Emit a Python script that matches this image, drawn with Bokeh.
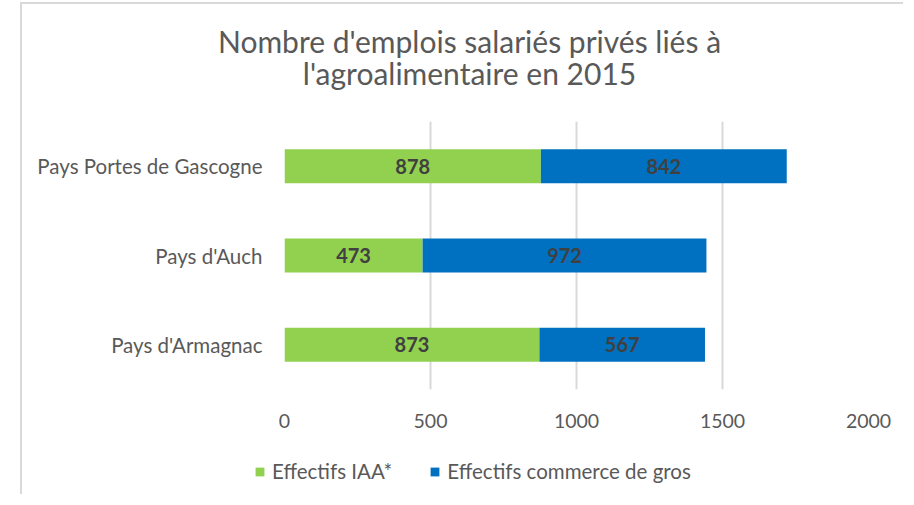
from bokeh.plotting import figure
from bokeh.models import Range1d, FactorRange, Legend, LegendItem, Label, ColumnDataSource, FixedTicker
from bokeh.core.properties import value
from bokeh.embed import file_html
from bokeh.resources import INLINE

categories = ["Pays d'Armagnac", "Pays d'Auch", "Pays Portes de Gascogne"]
iaa = [873, 473, 878]
gros = [567, 972, 842]
series_names = ["Effectifs IAA*", "Effectifs commerce de gros"]
x_ticks = [0, 500, 1000, 1500, 2000]
title_line1 = "Nombre d'emplois salariés privés liés à"
title_line2 = "l'agroalimentaire en 2015"

FONT = "Lato"
GREEN = "#92D050"
BLUE = "#0070C0"
GRAY = "#595959"
COLORS = [GREEN, BLUE]
BORDER = "2px solid #d9d9d9"

src = ColumnDataSource(dict(
    cat=categories, iaa=iaa, gros=gros,
    iaa_mid=[v / 2 for v in iaa],
    gros_mid=[a + b / 2 for a, b in zip(iaa, gros)],
    iaa_lbl=[str(v) for v in iaa],
    gros_lbl=[str(v) for v in gros],
))

W = 883

# ---- title strip (separate root, frame spans the whole canvas) ----
tf = figure(width=W, height=100, x_range=Range1d(0, 1), y_range=Range1d(0, 1),
            output_backend="svg", toolbar_location=None,
            x_axis_location=None, y_axis_location=None,
            min_border_left=0, min_border_right=0, min_border_top=0, min_border_bottom=0,
            styles={"margin-left": "20px", "margin-top": "2px",
                    "border-left": BORDER, "border-top": BORDER})
tf.outline_line_color = None
tf.grid.grid_line_color = None
tf.border_fill_color = "white"
tf.background_fill_color = "white"
tf.title.text_font_size = "1px"
tf.title.standoff = 0
for txt, yy in [(title_line1, 64), (title_line2, 32)]:
    tf.add_layout(Label(x=447, y=yy, x_units="screen", y_units="screen", text=txt,
                        text_align="center", text_baseline="alphabetic", text_font=FONT,
                        text_font_size="30px", text_color=GRAY))

# ---- main chart ----
p = figure(width=W, height=342, y_range=FactorRange(*categories), x_range=Range1d(0, 2000),
           output_backend="svg", toolbar_location=None,
           min_border_left=262, min_border_right=37, min_border_top=19, min_border_bottom=55,
           styles={"margin-left": "20px", "border-left": BORDER})
p.outline_line_color = None
p.background_fill_color = "white"
p.border_fill_color = "white"
p.title.text_font_size = "1px"
p.title.standoff = 0

r = p.hbar_stack(["iaa", "gros"], y="cat", height=0.38, color=COLORS, line_color=None, source=src)

p.text(x="iaa_mid", y="cat", text="iaa_lbl", source=src, text_align="center", text_baseline="middle",
       text_font=value(FONT), text_font_style="bold", text_font_size="20px", text_color="#404040")
p.text(x="gros_mid", y="cat", text="gros_lbl", source=src, text_align="center", text_baseline="middle",
       text_font=value(FONT), text_font_style="bold", text_font_size="20px", text_color="#404040")

p.xaxis.ticker = FixedTicker(ticks=x_ticks)
p.xaxis.axis_line_color = None
p.xaxis.major_tick_line_color = None
p.xaxis.minor_tick_line_color = None
p.xaxis.major_tick_out = 0
p.xaxis.major_label_standoff = 24
p.xaxis.major_label_text_font = FONT
p.xaxis.major_label_text_font_size = "19.5px"
p.xaxis.major_label_text_color = GRAY

p.yaxis.axis_line_color = None
p.yaxis.major_tick_line_color = None
p.yaxis.major_tick_out = 0
p.yaxis.major_label_standoff = 22
p.yaxis.major_label_text_font = FONT
p.yaxis.major_label_text_font_size = "20.5px"
p.yaxis.major_label_text_color = GRAY

p.ygrid.grid_line_color = None
p.xgrid.grid_line_color = "#d9d9d9"
p.xgrid.grid_line_width = 2

# ---- legend strip below the chart (separate root so its frame spans the full width) ----
lg = figure(width=W, height=50, y_range=FactorRange(*categories), x_range=Range1d(0, 2000),
            output_backend="svg", toolbar_location=None,
            x_axis_location=None, y_axis_location=None,
            min_border_left=0, min_border_right=0, min_border_top=0, min_border_bottom=0,
            styles={"margin-left": "20px", "border-left": BORDER})
lg.outline_line_color = None
lg.grid.grid_line_color = None
lg.border_fill_color = "white"
lr = lg.hbar_stack(["iaa", "gros"], y="cat", height=0.38, color=COLORS, line_color=None, source=src)
for rr in lr:
    rr.visible = False

legend = Legend(items=[LegendItem(label=series_names[i], renderers=[lr[i]]) for i in range(2)],
                orientation="horizontal", location=(232, 11),
                glyph_width=11, glyph_height=11, label_height=20, label_standoff=7, spacing=37,
                padding=0, margin=0, border_line_color=None, background_fill_alpha=0,
                label_text_font=FONT, label_text_font_size="20.5px", label_text_color=GRAY)
lg.add_layout(legend, "center")

open("out.html", "w").write(file_html([tf, p, lg], INLINE))
